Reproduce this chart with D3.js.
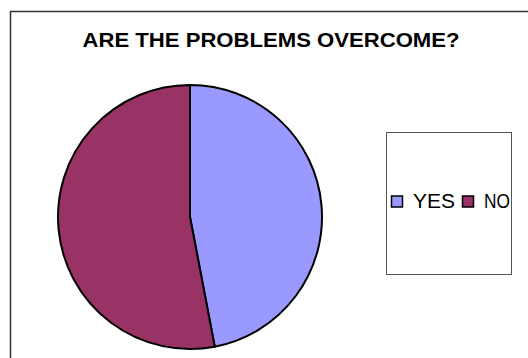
<!DOCTYPE html>
<html><head><meta charset="utf-8">
<script src="https://cdn.jsdelivr.net/npm/d3@7"></script>
<style>body{margin:0;background:#fff}svg{display:block}</style>
</head><body>
<script>
const categories = ["YES", "NO"];
const values = [47, 53];
const colors = ["#9999FF", "#993366"];
const title = "ARE THE PROBLEMS OVERCOME?";

const W = 528, H = 358;
const svg = d3.select("body").append("svg").attr("width", W).attr("height", H);
svg.append("rect").attr("width", W).attr("height", H).attr("fill", "#fff");
// outer chart border (extends past right/bottom edges)
svg.append("rect").attr("x", 10.5).attr("y", 11.5).attr("width", 530).attr("height", 360)
  .attr("fill", "none").attr("stroke", "#333").attr("stroke-width", 1.5);

svg.append("text").attr("x", 271).attr("y", 47).attr("text-anchor", "middle")
  .attr("font-family", "Liberation Sans, Arial, sans-serif").attr("font-weight", "bold")
  .attr("font-size", 21).attr("textLength", 377).attr("lengthAdjust", "spacingAndGlyphs")
  .text(title);

const cx = 190, cy = 217, r = 132;
const pie = d3.pie().sort(null).value(d => d.v)(categories.map((c, i) => ({c, v: values[i]})));
const arc = d3.arc().innerRadius(0).outerRadius(r);
svg.append("g").attr("transform", `translate(${cx},${cy})`)
  .selectAll("path").data(pie).join("path")
  .attr("d", arc).attr("fill", (d, i) => colors[i])
  .attr("stroke", "#000").attr("stroke-width", 2).attr("stroke-linejoin", "round");

// legend
svg.append("rect").attr("x", 386.5).attr("y", 132.5).attr("width", 125).attr("height", 142)
  .attr("fill", "#fff").attr("stroke", "#555").attr("stroke-width", 1);
const lx = d3.scalePoint().domain(categories).range([391, 462]);
const lg = svg.append("g").selectAll("g").data(categories).join("g");
lg.append("rect").attr("x", d => lx(d) + 0.5).attr("y", 196).attr("width", 11).attr("height", 11)
  .attr("fill", (d, i) => colors[i]).attr("stroke", "#000").attr("stroke-width", 1.5);
const tw = [42, 26];
lg.append("text").attr("x", d => lx(d) + 22).attr("y", 207.5)
  .attr("font-family", "Liberation Sans, Arial, sans-serif").attr("font-size", 20)
  .attr("textLength", (d, i) => tw[i]).attr("lengthAdjust", "spacingAndGlyphs")
  .text(d => d);
</script>
</body></html>
